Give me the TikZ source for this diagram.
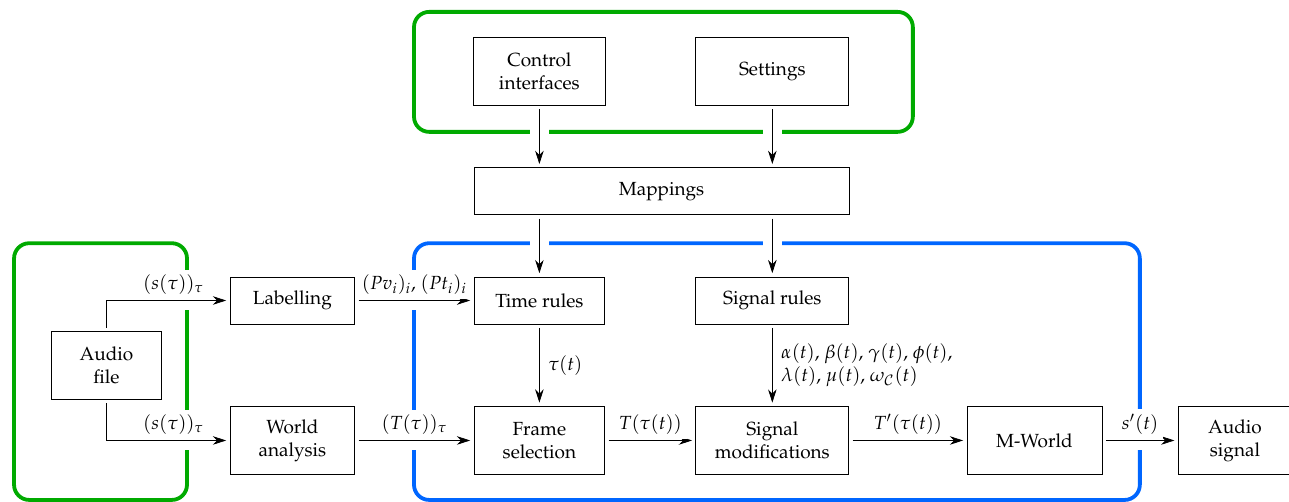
\documentclass[tikz,border=0pt]{standalone}
\usepackage[T1]{fontenc}
\usepackage{mathpazo}
\usepackage{amsmath}
\usepackage{xcolor}
\usetikzlibrary{arrows.meta,positioning,calc}
\definecolor{groupgreen}{HTML}{00AA00}
\definecolor{groupblue}{HTML}{0066FF}

\begin{document}
\begin{tikzpicture}[
    block/.style={draw, thin, align=center, minimum height=0.87cm, outer sep=2pt},
    tall/.style={minimum height=1.26cm},
    flow/.style={thin, -{Stealth[length=7pt,width=4.5pt]}, preaction={draw=white, line width=10pt, -}},
    lbl/.style={fill=white, inner sep=2.5pt},
    group/.style={line width=2pt, rounded corners=8pt},
]
    \useasboundingbox (0,0) rectangle (23.85,-9.27);

    % Rows and columns
    \def\rowA{-1.32}
    \def\rowB{-3.54}
    \def\rowC{-5.56}
    \def\rowD{-6.76}
    \def\rowE{-8.15}

    % Groups
    \draw[group, groupgreen] (7.66,-0.22) rectangle (16.89,-2.44);
    \draw[group, groupgreen] (0.26,-4.50) rectangle (3.46,-9.25);
    \draw[group, groupblue] (7.66,-4.50) rectangle (21.09,-9.25);

    % Top: control and settings
    \node[block, tall, minimum width=2.44cm] (ctrl) at (9.98,\rowA) {Control\\interfaces};
    \node[block, tall, minimum width=2.83cm] (settings) at (14.29,\rowA) {Settings};
    \node[block, minimum width=6.94cm] (map) at (12.24,\rowB) {Mappings};

    % Rules
    \node[block, minimum width=2.42cm] (timerules) at (9.98,\rowC) {Time rules};
    \node[block, minimum width=2.83cm] (sigrules) at (14.29,\rowC) {Signal rules};

    % Input side
    \node[block, tall, minimum width=2.05cm] (audio) at (1.97,\rowD) {Audio\\file};
    \node[block, minimum width=2.31cm] (labelling) at (5.41,\rowC) {Labelling};
    \node[block, tall, minimum width=2.31cm] (world) at (5.41,\rowE) {World\\analysis};

    % Processing chain
    \node[block, tall, minimum width=2.42cm] (frame) at (9.98,\rowE) {Frame\\selection};
    \node[block, tall, minimum width=2.83cm] (sigmod) at (14.29,\rowE) {Signal\\modifications};
    \node[block, tall, minimum width=2.50cm] (mworld) at (19.14,\rowE) {M-World};
    \node[block, tall, minimum width=2.10cm] (output) at (22.85,\rowE) {Audio\\signal};

    % Connectors
    \draw[flow] (ctrl) -- (ctrl |- map.north);
    \draw[flow] (settings) -- (settings |- map.north);
    \draw[flow] (map.south -| timerules) -- (timerules);
    \draw[flow] (map.south -| sigrules) -- (sigrules);

    \draw[flow] (audio) |- node[lbl, above=0.5pt, pos=0.78] {$(s(\tau))_\tau$} (labelling);
    \draw[flow] (audio) |- node[lbl, above=0.5pt, pos=0.78] {$(s(\tau))_\tau$} (world);
    \draw[flow] (labelling) -- node[lbl, above=0.5pt] {$(Pv_i)_i$, $(Pt_i)_i$} (timerules);
    \draw[flow] (world) -- node[lbl, above=0.5pt] {$(T(\tau))_\tau$} (frame);

    \draw[flow] (timerules) -- node[lbl, right=2pt] {$\tau(t)$} (frame);
    \draw[flow] (sigrules) -- node[lbl, right=2pt, align=left] {$\alpha(t)$, $\beta(t)$, $\gamma(t)$, $\phi(t)$,\\$\lambda(t)$, $\mu(t)$, $\omega_{\mathcal{C}}(t)$} (sigmod);

    \draw[flow] (frame) -- node[lbl, above=0.5pt] {$T(\tau(t))$} (sigmod);
    \draw[flow] (sigmod) -- node[lbl, above=0.5pt] {$T'(\tau(t))$} (mworld);
    \draw[flow] (mworld) -- node[lbl, above=0.5pt] {$s'(t)$} (output);

\end{tikzpicture}
\end{document}
